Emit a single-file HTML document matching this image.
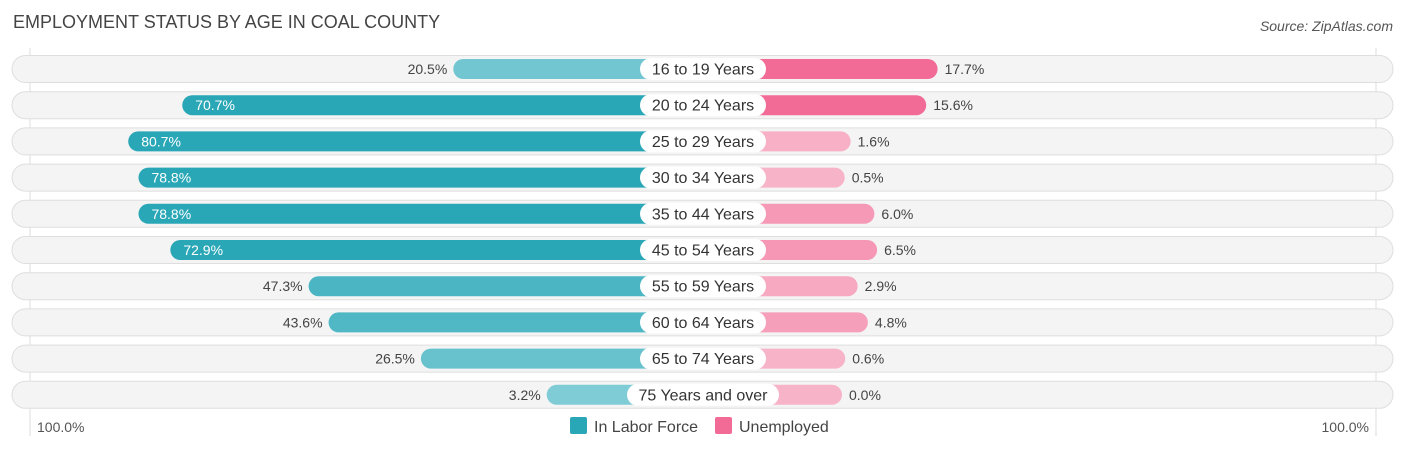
<!DOCTYPE html>
<html><head><meta charset="utf-8"><style>
body{margin:0;background:#fff;font-family:"Liberation Sans",sans-serif;}
#c{position:relative;width:1406px;height:451px;overflow:hidden}
</style></head><body><div id="c">
<svg width="1406" height="451" xmlns="http://www.w3.org/2000/svg" id="svg">
<text x="13" y="28" font-size="18" fill="#444">EMPLOYMENT STATUS BY AGE IN COAL COUNTY</text>
<text x="1393" y="31" font-size="14" fill="#555" font-style="italic" text-anchor="end">Source: ZipAtlas.com</text>
<line x1="30" y1="48" x2="30" y2="436" stroke="#ddd"/>
<line x1="1376" y1="48" x2="1376" y2="436" stroke="#ddd"/>
<g id="rows"></g>
<text x="37" y="432" font-size="14" fill="#555">100.0%</text>
<text x="1369" y="432" font-size="14" fill="#555" text-anchor="end">100.0%</text>
<rect x="570" y="417" width="17" height="17" rx="2" fill="#2aa7b7"/>
<text x="594" y="432" font-size="16" fill="#444">In Labor Force</text>
<rect x="715" y="417" width="17" height="17" rx="2" fill="#f26b97"/>
<text x="739" y="432" font-size="16" fill="#444">Unemployed</text>
</svg>
<script>
const categories=["16 to 19 Years","20 to 24 Years","25 to 29 Years","30 to 34 Years","35 to 44 Years","45 to 54 Years","55 to 59 Years","60 to 64 Years","65 to 74 Years","75 Years and over"];
const laborForce=[20.5,70.7,80.7,78.8,78.8,72.9,47.3,43.6,26.5,3.2];
const unemployed=[17.7,15.6,1.6,0.5,6.0,6.5,2.9,4.8,0.6,0.0];
const NS="http://www.w3.org/2000/svg";
const cx=703,off=139,scale=5.4;
function xL(v){return cx-off-v*scale;}
function xR(v){return cx+off+v*scale;}
function rowY(i){return 69+i*36.2;}
function mix(a,b,t){t=Math.max(0,Math.min(1,t));const p=s=>[1,3,5].map(k=>parseInt(s.substr(k,2),16));const A=p(a),B=p(b);return "rgb("+A.map((x,j)=>Math.round(x+(B[j]-x)*t)).join(",")+")";}
function mk(tag,attrs,parent){const e=document.createElementNS(NS,tag);for(const k in attrs)e.setAttribute(k,attrs[k]);parent.appendChild(e);return e;}
const g=document.getElementById("rows");
categories.forEach((cat,i)=>{
  const y=rowY(i);
  const bg=mk("rect",{x:12,y:y-13.5,width:1381,height:27,rx:13.5,fill:"#f4f4f4",stroke:"#dedede"},g);
  
  
  const lv=laborForce[i],uv=unemployed[i];
  const lx=xL(lv);
  const lb=mk("rect",{x:lx,y:y-10,width:cx-lx,height:20,rx:10,fill:mix("#80ccd6","#2aa7b7",(lv-10)/60)},g);
  
  
  const rx=xR(uv);
  const rb=mk("rect",{x:cx,y:y-10,width:rx-cx,height:20,rx:10,fill:mix("#f7b3c8","#f26b97",(uv-1)/14)},g);
  
  
  const inside=lv>60;
  const lt=mk("text",{x:inside?lx+13:lx-6,y:y+5,"font-size":14,fill:inside?"#fff":"#444","text-anchor":inside?"start":"end"},g);
  lt.textContent=lv.toFixed(1)+"%";
  
  
  const rt=mk("text",{x:rx+7,y:y+5,"font-size":14,fill:"#444"},g);
  rt.textContent=uv.toFixed(1)+"%";
  
  
  const w=cat.length>14?152:126;
  const pill=mk("rect",{x:cx-w/2,y:y-11,width:w,height:22,rx:11,fill:"#fff"},g);
  
  
  const ct=mk("text",{x:cx,y:y+5.5,"font-size":16,fill:"#333","text-anchor":"middle"},g);
  ct.textContent=cat;
  
  
});
</script></div></body></html>
